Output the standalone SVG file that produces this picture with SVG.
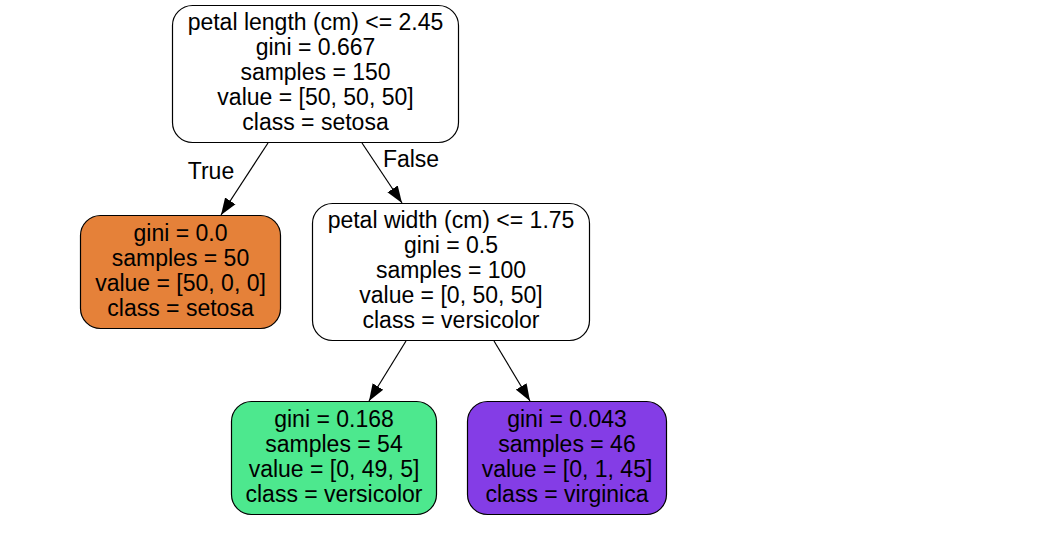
<svg xmlns="http://www.w3.org/2000/svg" width="1046" height="537" viewBox="0 0 1046 537">
<defs>
<style>
.box{stroke:#000;stroke-width:1.2}
text{font-family:"Liberation Sans",Arial,sans-serif;font-size:23px;fill:#000;text-anchor:middle}
.edge{stroke:#000;stroke-width:1.2;fill:none}
</style>
<marker id="ah" markerUnits="userSpaceOnUse" markerWidth="18" markerHeight="14" refX="17" refY="7" orient="auto">
<path d="M0,0.8 L17,7 L0,13.2 z" fill="#000"/>
</marker>
</defs>
<rect width="1046" height="537" fill="#fff"/>
<g id="connectors">
<line class="edge" x1="268" y1="143" x2="221" y2="215" marker-end="url(#ah)"/>
<line class="edge" x1="362" y1="143" x2="402" y2="203" marker-end="url(#ah)"/>
<line class="edge" x1="406" y1="341" x2="369" y2="401" marker-end="url(#ah)"/>
<line class="edge" x1="494" y1="341" x2="530" y2="401" marker-end="url(#ah)"/>
<text x="211" y="179">True</text>
<text x="411" y="167">False</text>
</g>
<g id="node0">
<rect class="box" x="172.5" y="5.5" width="286" height="137" rx="20" fill="#fff"/>
<text x="315.5" y="30">petal length (cm) &lt;= 2.45</text>
<text x="315.5" y="55">gini = 0.667</text>
<text x="315.5" y="80">samples = 150</text>
<text x="315.5" y="105">value = [50, 50, 50]</text>
<text x="315.5" y="130">class = setosa</text>
</g>
<g id="node1">
<rect class="box" x="80.5" y="215.5" width="200" height="113" rx="20" fill="#e58139"/>
<text x="180.5" y="241">gini = 0.0</text>
<text x="180.5" y="266">samples = 50</text>
<text x="180.5" y="291">value = [50, 0, 0]</text>
<text x="180.5" y="316">class = setosa</text>
</g>
<g id="node2">
<rect class="box" x="312.5" y="203.5" width="277" height="137" rx="20" fill="#fff"/>
<text x="451" y="228">petal width (cm) &lt;= 1.75</text>
<text x="451" y="253">gini = 0.5</text>
<text x="451" y="278">samples = 100</text>
<text x="451" y="303">value = [0, 50, 50]</text>
<text x="451" y="328">class = versicolor</text>
</g>
<g id="node3">
<rect class="box" x="231.5" y="401.5" width="205" height="113" rx="20" fill="#4de88e"/>
<text x="334" y="427">gini = 0.168</text>
<text x="334" y="452">samples = 54</text>
<text x="334" y="477">value = [0, 49, 5]</text>
<text x="334" y="502">class = versicolor</text>
</g>
<g id="node4">
<rect class="box" x="467.5" y="401.5" width="199" height="113" rx="20" fill="#843de6"/>
<text x="567" y="427">gini = 0.043</text>
<text x="567" y="452">samples = 46</text>
<text x="567" y="477">value = [0, 1, 45]</text>
<text x="567" y="502">class = virginica</text>
</g>
</svg>
